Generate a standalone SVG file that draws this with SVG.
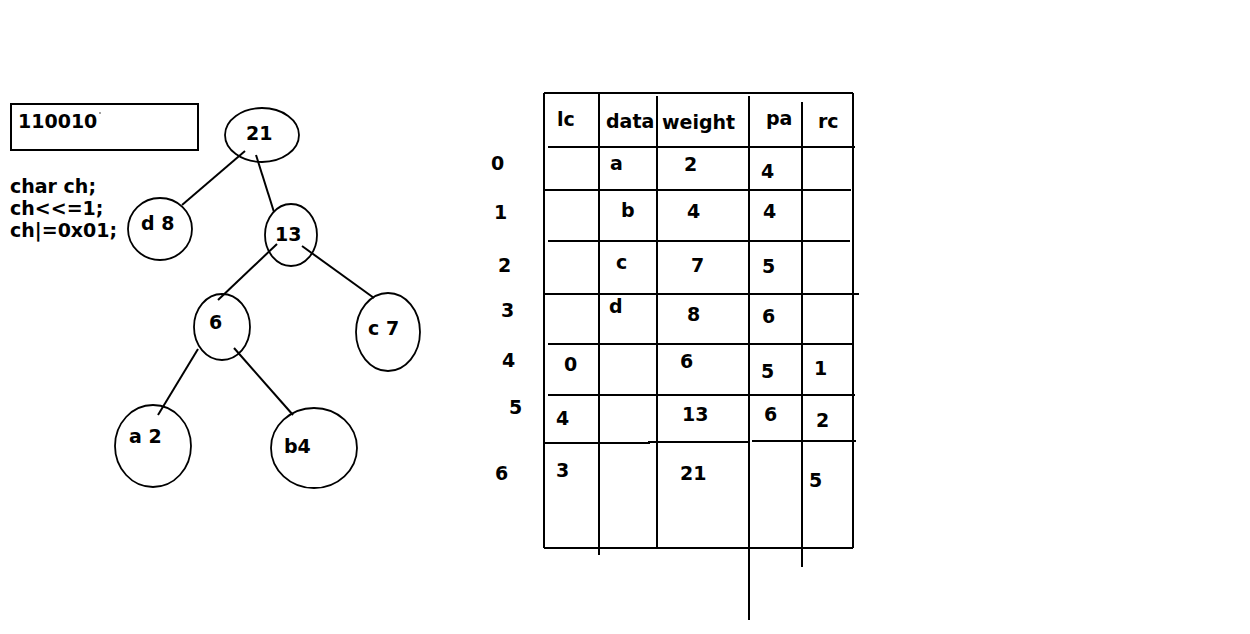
<svg xmlns="http://www.w3.org/2000/svg" width="1250" height="634" viewBox="0 0 1250 634">
<style>
text{font-family:"DejaVu Sans","Liberation Sans",sans-serif;font-weight:bold;font-size:19px;fill:#000}
.s{fill:none;stroke:#000;stroke-width:2}
.e{fill:none;stroke:#000;stroke-width:1.8}
</style>
<rect width="1250" height="634" fill="#fff"/>
<g id="register">
<rect class="s" x="11" y="104" width="187" height="46"/>
<text x="18" y="128">110010</text>
<circle cx="100" cy="113" r="0.7" fill="#000"/>
</g>
<g id="code">
<text x="10" y="193">char ch;</text>
<text x="10" y="215">ch&lt;&lt;=1;</text>
<text x="10" y="237">ch|=0x01;</text>
</g>
<g id="connectors">
<line class="s" x1="245" y1="151" x2="182" y2="205"/>
<line class="s" x1="256" y1="155" x2="274" y2="212"/>
<line class="s" x1="277" y1="244" x2="218" y2="300"/>
<line class="s" x1="302" y1="246" x2="374" y2="298"/>
<line class="s" x1="198" y1="349" x2="158" y2="415"/>
<line class="s" x1="234" y1="348" x2="293" y2="415"/>
</g>
<g id="n21"><ellipse class="e" cx="262" cy="135" rx="37" ry="27"/><text x="246" y="140">21</text></g>
<g id="nd8"><ellipse class="e" cx="160" cy="229" rx="32" ry="31"/><text x="141" y="230">d 8</text></g>
<g id="n13"><ellipse class="e" cx="291" cy="235" rx="26" ry="31"/><text x="275" y="241">13</text></g>
<g id="n6"><ellipse class="e" cx="222" cy="327" rx="28" ry="33"/><text x="209" y="329">6</text></g>
<g id="nc7"><ellipse class="e" cx="388" cy="332" rx="32" ry="39"/><text x="368" y="335">c 7</text></g>
<g id="na2"><ellipse class="e" cx="153" cy="446" rx="38" ry="41"/><text x="129" y="443">a 2</text></g>
<g id="nb4"><ellipse class="e" cx="314" cy="448" rx="43" ry="40"/><text x="284" y="453">b4</text></g>
<g id="table">
<line class="s" x1="544" y1="93" x2="544" y2="548"/>
<line class="s" x1="599" y1="93" x2="599" y2="555"/>
<line class="s" x1="657" y1="96" x2="657" y2="548"/>
<line class="s" x1="749" y1="96" x2="749" y2="620"/>
<line class="s" x1="802" y1="102" x2="802" y2="567"/>
<line class="s" x1="853" y1="93" x2="853" y2="548"/>
<line class="s" x1="544" y1="93" x2="853" y2="93"/>
<line class="s" x1="548" y1="147" x2="855" y2="147"/>
<line class="s" x1="545" y1="190" x2="851" y2="190"/>
<line class="s" x1="548" y1="241" x2="850" y2="241"/>
<line class="s" x1="544" y1="294" x2="859" y2="294"/>
<line class="s" x1="548" y1="344" x2="853" y2="344"/>
<line class="s" x1="548" y1="395" x2="855" y2="395"/>
<line class="s" x1="544" y1="443" x2="650" y2="443"/>
<line class="s" x1="648" y1="442" x2="749" y2="442"/>
<line class="s" x1="752" y1="441" x2="856" y2="441"/>
<line class="s" x1="544" y1="548" x2="853" y2="548"/>
<text x="557" y="126">lc</text>
<text x="606" y="128">data</text>
<text x="662" y="129">weight</text>
<text x="766" y="125">pa</text>
<text x="818" y="128">rc</text>
<text x="491" y="170">0</text>
<text x="494" y="219">1</text>
<text x="498" y="272">2</text>
<text x="501" y="317">3</text>
<text x="502" y="367">4</text>
<text x="509" y="414">5</text>
<text x="495" y="480">6</text>
<text x="610" y="170">a</text>
<text x="684" y="171">2</text>
<text x="761" y="178">4</text>
<text x="621" y="217">b</text>
<text x="687" y="218">4</text>
<text x="763" y="218">4</text>
<text x="616" y="269">c</text>
<text x="691" y="272">7</text>
<text x="762" y="273">5</text>
<text x="609" y="313">d</text>
<text x="687" y="321">8</text>
<text x="762" y="323">6</text>
<text x="564" y="371">0</text>
<text x="680" y="368">6</text>
<text x="761" y="378">5</text>
<text x="814" y="375">1</text>
<text x="556" y="425">4</text>
<text x="682" y="421">13</text>
<text x="764" y="421">6</text>
<text x="816" y="427">2</text>
<text x="556" y="477">3</text>
<text x="680" y="480">21</text>
<text x="809" y="487">5</text>
</g>
</svg>
